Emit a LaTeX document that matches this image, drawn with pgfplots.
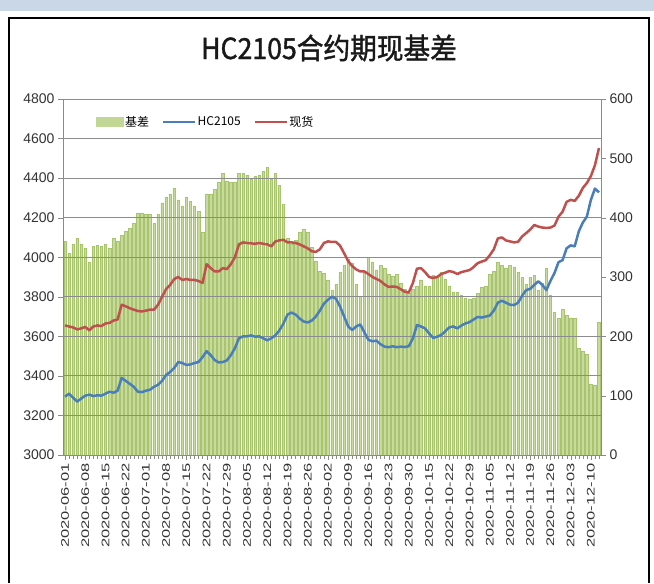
\documentclass[border=0pt]{standalone}
\usepackage{fontspec}
\setmainfont{Liberation Sans}
\newfontfamily\cjk{Noto Sans CJK SC}
\newfontfamily\titlefont[FakeStretch=0.92, FakeBold=1.3]{Noto Sans CJK SC}
\newfontfamily\datefont[FakeStretch=1.5]{Liberation Sans}
\usepackage{pgfplots}
\pgfplotsset{compat=1.18}
\usepackage{pgfplotstable}
\definecolor{barc}{HTML}{C6DB9C}
\definecolor{bardraw}{HTML}{A8C46E}
\definecolor{hcblue}{HTML}{4A7EBB}
\definecolor{spotred}{HTML}{C0504D}
\definecolor{axgray}{HTML}{8A8A8A}
\definecolor{gridc}{HTML}{8C8C8C}
\definecolor{topstrip}{HTML}{C9D7E7}
\pgfplotstableread{
i basis hc spot
0 360 3295 3655
1 340 3310 3650
2 355 3290 3645
3 365 3270 3635
4 355 3285 3640
5 348 3300 3648
6 325 3305 3630
7 352 3298 3650
8 353 3302 3655
9 352 3300 3652
10 355 3310 3665
11 348 3320 3668
12 365 3315 3680
13 360 3325 3685
14 370 3390 3760
15 377 3375 3752
16 382 3360 3742
17 390 3345 3735
18 408 3320 3728
19 408 3318 3726
20 405 3325 3730
21 405 3330 3735
22 390 3345 3735
23 405 3355 3760
24 425 3375 3800
25 435 3405 3840
26 440 3420 3860
27 450 3440 3890
28 430 3470 3900
29 420 3465 3885
30 435 3455 3890
31 427 3458 3885
32 420 3465 3885
33 410 3470 3880
34 375 3495 3870
35 440 3525 3965
36 440 3505 3945
37 448 3480 3928
38 460 3468 3928
39 475 3470 3945
40 462 3478 3940
41 460 3505 3965
42 460 3540 4000
43 475 3590 4065
44 475 3600 4075
45 472 3600 4072
46 465 3605 4070
47 470 3598 4068
48 472 3600 4072
49 478 3590 4068
50 485 3580 4065
51 465 3590 4055
52 475 3605 4080
53 455 3630 4085
54 423 3665 4088
55 365 3710 4075
56 355 3720 4075
57 362 3710 4072
58 375 3690 4065
59 380 3675 4055
60 375 3670 4045
61 350 3680 4030
62 327 3700 4027
63 310 3730 4040
64 307 3765 4072
65 295 3785 4080
66 277 3800 4077
67 287 3790 4077
68 308 3750 4058
69 320 3700 4020
70 330 3650 3980
71 323 3632 3955
72 288 3650 3938
73 268 3660 3928
74 308 3620 3928
75 333 3582 3915
76 325 3575 3900
77 312 3578 3890
78 320 3560 3880
79 314 3548 3862
80 305 3545 3850
81 302 3550 3852
82 305 3545 3850
83 290 3548 3838
84 279 3546 3825
85 272 3550 3822
86 280 3590 3870
87 285 3657 3942
88 295 3650 3945
89 285 3640 3925
90 285 3615 3900
91 303 3592 3895
92 302 3598 3900
93 308 3607 3915
94 297 3625 3922
95 285 3645 3930
96 275 3650 3925
97 275 3640 3915
98 270 3655 3925
99 265 3665 3930
100 263 3672 3935
101 265 3685 3950
102 272 3698 3970
103 283 3695 3978
104 285 3700 3985
105 305 3705 4010
106 310 3730 4040
107 325 3770 4095
108 320 3780 4100
109 315 3770 4085
110 320 3760 4080
111 317 3758 4075
112 308 3770 4078
113 300 3805 4105
114 288 3834 4122
115 300 3840 4140
116 303 3860 4163
117 277 3878 4155
118 290 3860 4150
119 314 3834 4148
120 270 3880 4150
121 240 3920 4160
122 230 3975 4205
123 245 3985 4230
124 235 4045 4280
125 230 4060 4290
126 230 4055 4285
127 180 4130 4310
128 175 4175 4350
129 170 4205 4375
130 120 4290 4410
131 118 4347 4465
132 224 4328 4552
}\data
\begin{document}
\begin{tikzpicture}[x=1pt,y=1pt]
\fill[white] (0,0) rectangle (654,583);
\fill[topstrip] (0,572) rectangle (654,583);
\draw[black, line width=2pt] (9,0) -- (9,565) -- (649,565) -- (649,0);
\node[font=\titlefont\fontsize{29}{29}\selectfont, text=black!90] at (329,535) {HC2105合约期现基差};
% bars on right axis
\begin{axis}[at={(63pt,128pt)}, anchor=south west, width=538pt, height=356pt, scale only axis,
  xmin=-0.5, xmax=132.5, ymin=0, ymax=600,
  axis x line=none, axis y line*=right, axis line style={axgray, -},
  ytick={0,100,...,600}, tick align=outside, major tick length=5pt, tick style={axgray},
  yticklabel style={font=\fontsize{14}{14}\selectfont, text=black!80},
  /pgf/number format/assume math mode=true,
]
\addplot[ybar, bar width=2.5pt, bar shift=0pt, fill=barc, draw=bardraw, line width=0.5pt] table[x=i, y=basis] {\data};
\end{axis}
% grid and left axis
\begin{axis}[at={(63pt,128pt)}, anchor=south west, width=538pt, height=356pt, scale only axis,
  xmin=-0.5, xmax=132.5, ymin=3000, ymax=4800,
  axis x line*=bottom, axis y line*=left, axis line style={axgray, -},
  ytick={3000,3200,...,4800}, ymajorgrids, grid style={gridc, line width=0.8pt},
  tick align=outside, major tick length=5pt, minor tick length=4pt,
  tick style={axgray},
  xtick={0,5,...,130}, minor xtick={0,1,...,132},
  xticklabels={2020-06-01,2020-06-08,2020-06-15,2020-06-22,2020-07-01,2020-07-08,2020-07-15,2020-07-22,2020-07-29,2020-08-05,2020-08-12,2020-08-19,2020-08-26,2020-09-02,2020-09-09,2020-09-16,2020-09-23,2020-09-30,2020-10-15,2020-10-22,2020-10-29,2020-11-05,2020-11-12,2020-11-19,2020-11-26,2020-12-03,2020-12-10},
  xticklabel style={font=\datefont\fontsize{11}{11}\selectfont, rotate=90, anchor=east, text=black!80},
  yticklabel style={font=\fontsize{14}{14}\selectfont, text=black!80},
  /pgf/number format/assume math mode=true, /pgf/number format/1000 sep={},
]
\addplot[draw=none] coordinates {(0,3000)};
\end{axis}
% lines on left axis
\begin{axis}[at={(63pt,128pt)}, anchor=south west, width=538pt, height=356pt, scale only axis,
  xmin=-0.5, xmax=132.5, ymin=3000, ymax=4800, hide axis,
  legend style={draw=none, fill=none, at={(0.056,0.935)}, anchor=west, legend columns=3,
    font=\cjk\fontsize{12}{12}\selectfont, /tikz/every even column/.append style={column sep=12pt},
    nodes={inner sep=1.5pt}},
]
\addlegendimage{legend image code/.code={\fill[barc!85!bardraw] (0pt,-4.5pt) rectangle (27pt,4.5pt);}}
\addlegendentry{基差}
\addplot[hcblue, line width=2.5pt, line join=round, legend image code/.code={\draw[hcblue, line width=1.5pt] (0pt,0pt) -- (32pt,0pt);}] table[x=i, y=hc] {\data};
\addlegendentry{HC2105}
\addplot[spotred, line width=2.5pt, line join=round, legend image code/.code={\draw[spotred, line width=1.5pt] (0pt,0pt) -- (32pt,0pt);}] table[x=i, y=spot] {\data};
\addlegendentry{现货}
\end{axis}
\end{tikzpicture}
\end{document}
